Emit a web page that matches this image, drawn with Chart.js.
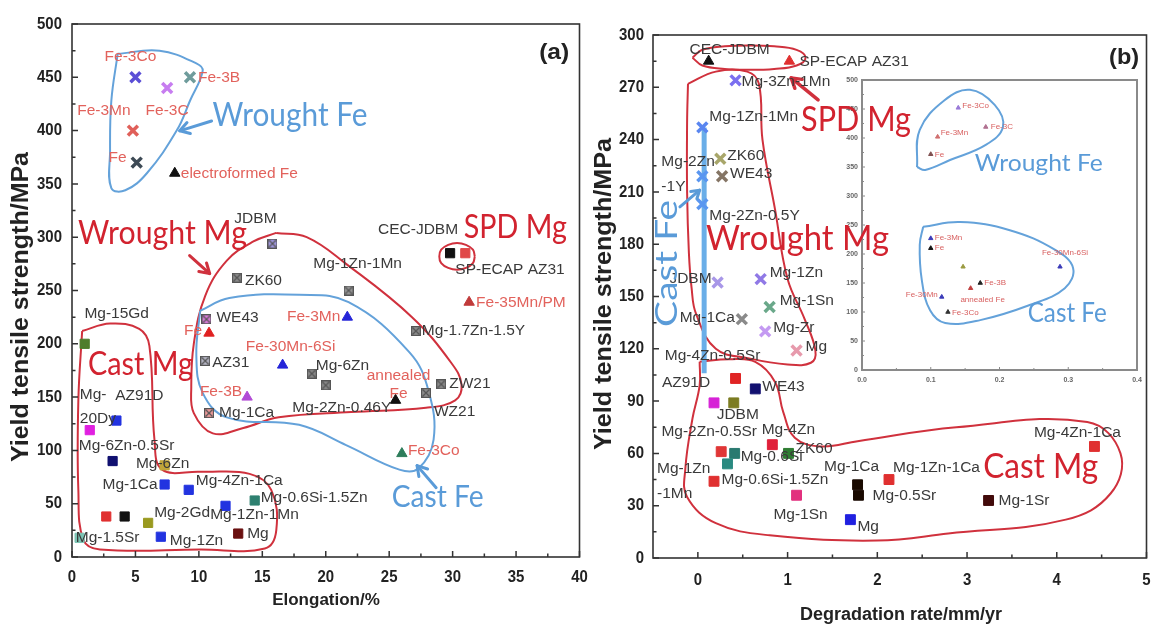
<!DOCTYPE html>
<html>
<head>
<meta charset="utf-8">
<title>Yield tensile strength vs elongation and degradation rate</title>
<script src="https://cdn.jsdelivr.net/npm/chart.js@4.4.1/dist/chart.umd.min.js"></script>
<style>
  html, body { margin:0; padding:0; background:#ffffff; }
  #wrap { position:relative; width:1157px; height:628px; overflow:hidden; background:#fff; }
  #wrap canvas { position:absolute; }
  #ca { left:0; top:0; width:590px; height:628px; }
  #ci { left:830px; top:70px; width:315px; height:325px; z-index:1; }
  #cb { left:590px; top:0; width:567px; height:628px; z-index:2; }
</style>
</head>
<body>
<div id="wrap">
  <canvas id="ca" width="590" height="628"></canvas>
  <canvas id="ci" width="315" height="325"></canvas>
  <canvas id="cb" width="567" height="628"></canvas>
</div>
<script>
// ================= DATA =================
// ---- Panel (a): elongation (%) vs yield tensile strength (MPa)
const aXRange = [0, 40];
const aYRange = [0, 500];
const aXTicks = [0, 5, 10, 15, 20, 25, 30, 35, 40];
const aYTicks = [0, 50, 100, 150, 200, 250, 300, 350, 400, 450, 500];

const aWroughtFeNames = ['Fe-3Co', 'Fe-3C', 'Fe-3B', 'Fe-3Mn', 'Fe'];
const aWroughtFeElong = [5.0, 7.5, 9.3, 4.8, 5.1];
const aWroughtFeYts   = [450, 440, 450, 400, 370];

const aFeTriNames = ['electroformed Fe', 'Fe', 'Fe-3Mn', 'Fe-30Mn-6Si', 'Fe-3B', 'annealed\nFe', 'Fe-3Co', 'Fe-35Mn/PM'];
const aFeTriElong = [8.1, 10.8, 21.7, 16.6, 13.8, 25.5, 26.0, 31.3];
const aFeTriYts   = [360, 210, 225, 180, 150, 147, 97, 239];

const aWroughtMgNames = ['JDBM', 'ZK60', 'Mg-1Zn-1Mn', 'WE43', 'AZ31', 'Mg-1Ca', 'Mg-6Zn', 'Mg-2Zn-0.46Y', 'Mg-1.7Zn-1.5Y', 'ZW21', 'WZ21'];
const aWroughtMgElong = [15.8, 13.0, 21.8, 10.6, 10.5, 10.8, 18.9, 20.0, 27.1, 29.1, 27.9];
const aWroughtMgYts   = [294, 262, 250, 223, 184, 135, 172, 161, 212, 162, 154];

const aSpdNames = ['CEC-JDBM', 'SP-ECAP AZ31'];
const aSpdElong = [29.8, 31.0];
const aSpdYts   = [285, 285];

const aCastMgNames = ['Mg-15Gd', 'AZ91D', 'Mg-\n20Dy', 'Mg-6Zn-0.5Sr', 'Mg-6Zn', 'Mg-1Ca', 'Mg-4Zn-1Ca', 'Mg-0.6Si-1.5Zn', 'Mg-1Zn-1Mn', '', '', 'Mg-2Gd', 'Mg-1.5Sr', 'Mg-1Zn', 'Mg'];
const aCastMgElong = [1.0, 3.5, 1.4, 3.2, 7.3, 7.3, 9.2, 14.4, 12.1, 2.7, 4.15, 6.0, 0.6, 7.0, 13.1];
const aCastMgYts   = [200, 128, 119, 90, 86, 68, 63, 53, 48, 38, 38, 32, 18, 19, 22];

// region outlines of panel (a), in data units [elongation, strength]
const aOutlineWroughtFe = [[3.6,472],[6.9,475],[9.8,463],[10.3,456],[9.3,428],[8.25,400],[5.9,360],[4.2,344],[3.1,346],[3.0,381],[3.1,428],[3.6,472]];
const aOutlineSpd = [[31.75,282],[31.6,288.3],[31.05,292.8],[30.35,294.5],[29.65,292.8],[29.1,288.3],[28.95,282],[29.1,275.7],[29.65,271.2],[30.35,269.5],[31.05,271.2],[31.6,275.7],[31.75,282]];
const aOutlineWroughtMg = [[16.1,304],[18.5,300],[21.6,275],[26.8,225],[29.9,182],[30.7,162],[30.2,147],[27.9,140],[22,136],[16.3,131],[13.5,121],[11.1,116],[9.6,135],[9.4,159],[9.6,200],[10.5,245],[12.2,278],[14.3,296],[16.1,304]];
const aOutlineCastFe = [[10.1,231],[12.4,243],[17.9,246],[21.8,239],[26.6,192],[28.1,156],[28.5,110],[27.3,83],[25.8,82],[21.6,105],[17.9,124],[12.2,131],[10.3,154],[9.8,189],[10.1,231]];
const aOutlineCastMg = [[0.8,212],[3.0,219],[5.3,214],[6.1,198],[6.5,110],[7.1,82],[10.1,80],[14.0,78],[15.7,63],[16.1,25],[15.2,8],[10.1,7],[2.2,7],[0.9,16],[0.5,63],[0.5,147],[0.8,212]];

// ---- Panel (b): degradation rate (mm/yr) vs yield tensile strength (MPa)
const bXRange = [-0.5, 5];
const bYRange = [0, 300];
const bXTicks = [0, 1, 2, 3, 4, 5];
const bYTicks = [0, 30, 60, 90, 120, 150, 180, 210, 240, 270, 300];

const bWroughtMgNames = ['Mg-3Zn-1Mn', 'Mg-1Zn-1Mn', 'Mg-2Zn\n-1Y', 'Mg-2Zn-0.5Y', 'ZK60', 'WE43', 'JDBM', 'Mg-1Zn', 'Mg-1Sn', 'Mg-1Ca', 'Mg-Zr', 'Mg'];
const bWroughtMgRate = [0.42, 0.05, 0.05, 0.05, 0.25, 0.27, 0.22, 0.70, 0.80, 0.49, 0.75, 1.10];
const bWroughtMgYts  = [274, 247, 219, 203, 229, 219, 158, 160, 144, 137, 130, 119];

const bSpdNames = ['CEC-JDBM', 'SP-ECAP AZ31'];
const bSpdRate  = [0.12, 1.02];
const bSpdYts   = [285, 285];

const bCastMgNames = ['Mg-4Zn-0.5Sr', 'AZ91D', 'WE43', 'JDBM', 'Mg-2Zn-0.5Sr', 'Mg-4Zn', 'ZK60', 'Mg-0.6Si', 'Mg-0.6Si-1.5Zn', 'Mg-1Zn\n-1Mn', 'Mg-1Sn', 'Mg', 'Mg-1Ca', 'Mg-0.5Sr', 'Mg-1Zn-1Ca', 'Mg-1Sr', 'Mg-4Zn-1Ca'];
const bCastMgRate = [0.42, 0.18, 0.64, 0.40, 0.26, 0.83, 1.01, 0.41, 0.33, 0.18, 1.10, 1.70, 1.78, 1.79, 2.13, 3.24, 4.42];
const bCastMgYts  = [103, 89, 97, 89, 61, 65, 60, 60, 54, 44, 36, 22, 42, 36, 45, 33, 64];

const bCastFeBar = [[0.07,247],[0.07,106]];
const bOutlineSpd = [[-0.06,287],[0.05,291.5],[0.3,293.5],[0.57,294],[0.85,293.5],[1.1,291.5],[1.2,287],[1.1,282.5],[0.85,280.5],[0.57,280],[0.3,280.5],[0.05,282.5],[-0.06,287]];
const bOutlineWroughtMg = [[-0.11,272],[-0.12,250],[-0.12,210],[-0.1,175],[-0.07,155],[-0.02,140],[0.2,120],[0.57,114.5],[1.0,111],[1.26,112],[1.31,119],[1.19,137],[1.0,160],[0.86,200],[0.72,240],[0.68,272],[0.55,279],[0.2,279],[-0.11,272]];
const bOutlineCastMg = [[0.02,112.6],[0.35,114],[0.64,112.5],[0.86,101],[0.95,84],[1.08,69],[1.37,64],[1.78,67],[2.88,75],[4.34,78],[4.71,60],[4.6,37],[4.1,22],[2.79,14],[2.0,10],[0.8,13],[0.2,20],[-0.12,35],[-0.14,51],[-0.06,80],[0.02,99],[0.02,112.6]];

// ---- Inset of panel (b): Fe alloys
const iXRange = [0, 0.4];
const iYRange = [0, 500];
const iXTicks = [0, 0.1, 0.2, 0.3, 0.4];
const iXTickLabels = ['0.0', '0.1', '0.2', '0.3', '0.4'];
const iYTicks = [0, 50, 100, 150, 200, 250, 300, 350, 400, 450, 500];

const iWroughtFeNames = ['Fe-3Co', 'Fe-3Mn', 'Fe-3C', 'Fe'];
const iWroughtFeRate  = [0.14, 0.11, 0.18, 0.10];
const iWroughtFeYts   = [452, 402, 419, 372];
const iCastFeNames = ['Fe-3Mn', 'Fe', '', 'Fe-30Mn-6Si', 'Fe-3B', 'annealed Fe', 'Fe-30Mn', 'Fe-3Co'];
const iCastFeRate  = [0.10, 0.10, 0.147, 0.288, 0.172, 0.158, 0.116, 0.125];
const iCastFeYts   = [227, 210, 178, 178, 150, 141, 126, 100];
const iOutlineWroughtFe = [[0.08,350],[0.084,414],[0.12,465],[0.157,483],[0.193,457],[0.205,419],[0.18,388],[0.128,362],[0.092,345],[0.08,350]];
const iOutlineCastFe = [[0.089,247],[0.143,255],[0.215,241],[0.281,207],[0.307,176],[0.295,141],[0.244,112],[0.172,86],[0.121,81],[0.099,103],[0.087,155],[0.084,216],[0.089,247]];

// ================= STYLES =================
const RED = '#d2232f', BLUE = '#5a9bd8', OUT_RED = '#d0313d', OUT_BLUE = '#64a2da';
const FE_LABEL = '#e2625c', MG_LABEL = '#3a3a3a';
const F_LABEL = '15.5px "Liberation Sans", Arial, sans-serif';
const F_BIG = 'Lato, "Liberation Sans", sans-serif';
const F_TICK = 'bold 17px "Liberation Sans", Arial, sans-serif';

const aWroughtFeColors = ['#5b4fd6', '#c77df0', '#6f9c9c', '#e0605a', '#3d4a55'];
const aFeTriColors = ['#111111', '#e02020', '#2525d8', '#2525d8', '#b24bd6', '#111111', '#2e7d5b', '#c03a3a'];
const aWroughtMgColors = ['#a59be8', '#8c8c8c', '#9a9a9a', '#e47de4', '#b8b8c8', '#f19a9a', '#8c8c8c', '#8c8c8c', '#8c8c8c', '#8c8c8c', '#8c8c8c'];
const aSpdColors = ['#111111', '#e04848'];
const aCastMgColors = ['#4f7d2c', '#2233e0', '#e020e0', '#101070', '#c0a53a', '#2233e0', '#2233e0', '#2e8070', '#2233e0', '#e03030', '#111111', '#9a9a20', '#7cc4b4', '#2233e0', '#6a1010'];

const bWroughtMgColors = ['#7b6ff0', '#5a86f0', '#5a96f0', '#5a96f0', '#a8a66a', '#857565', '#a897e8', '#9079e6', '#6aa88a', '#8a8a8a', '#c49af2', '#e79aac'];
const bSpdColors = ['#111111', '#e03030'];
const bCastMgColors = ['#e02424', '#d622d6', '#121070', '#7c7c22', '#e03636', '#e0203a', '#2e7d32', '#2a7a70', '#2a8a80', '#e03030', '#e2307e', '#2020e0', '#1a0a00', '#1a0a00', '#e03030', '#420a0a', '#e03030'];
const iWroughtFeColors = ['#9a7ad8', '#d07070', '#b07090', '#805050'];
const iCastFeColors = ['#3a3ab8', '#111111', '#9a9a40', '#3a3ab8', '#222222', '#c04040', '#3a3ab8', '#333333'];

// label offsets [dx px, dy px, align]
const aWroughtFeLab = [[-5,-21,'center'],[0,23,'center'],[8,0,'left'],[-29,-20,'center'],[-10,-5,'right']];
const aFeTriLab = [[6,0,'left'],[-7,-2,'right'],[-7,0,'right'],[8,-18,'center'],[-5,-5,'right'],[3,-25,'center'],[6,-3,'left'],[7,0,'left']];
const aWroughtMgLab = [[-17,-25,'center'],[8,3,'left'],[9,-27,'center'],[10,-2,'left'],[7,2,'left'],[10,0,'left'],[4,-8,'left'],[16,22,'center'],[6,0,'left'],[8,-1,'left'],[8,19,'left']];
const aSpdLab = [[8,-23,'right'],[-10,17,'left']];
const aCastMgLab = [[32,-30,'center'],[23,-25,'center'],[-10,-35,'left'],[14,-15,'center'],[-2,-2,'center'],[-7,0,'right'],[7,-9,'left'],[6,-3,'left'],[29,9,'center'],[0,0,'left'],[0,0,'left'],[6,-10,'left'],[28,0,'center'],[9,4,'left'],[9,0,'left']];

const bWroughtMgLab = [[6,1,'left'],[7,-11,'left'],[-41,-14,'left'],[7,12,'left'],[7,-3,'left'],[8,-2,'left'],[-6,-4,'right'],[9,-6,'left'],[10,-6,'left'],[-7,-1,'right'],[8,-4,'left'],[9,-4,'left']];
const bSpdLab = [[21,-11,'center'],[10,1,'left']];
const bCastMgLab = [[-23,-23,'center'],[-28,-20,'center'],[7,-2,'left'],[4,12,'center'],[-12,-20,'center'],[16,-15,'center'],[7,-5,'left'],[6,3,'left'],[-6,16,'left'],[-57,-13,'left'],[4,19,'center'],[7,7,'left'],[-6,-18,'center'],[14,0,'left'],[4,-12,'left'],[10,0,'left'],[-17,-14,'center']];
const iWroughtFeLab = [[4,-2,'left'],[3,-4,'left'],[5,0,'left'],[4,1,'left']];
const iCastFeLab = [[4,-1,'left'],[4,0,'left'],[0,0,'left'],[5,-14,'center'],[4,0,'left'],[12,12,'center'],[-4,-2,'right'],[4,1,'left']];

// ================= HELPERS =================
function drawText(ctx, s, x, y, o) {
  ctx.save();
  ctx.font = o.font;
  ctx.fillStyle = o.color || '#222';
  ctx.textBaseline = 'middle';
  ctx.textAlign = 'left';
  const w = ctx.measureText(s).width;
  const sx = o.w ? o.w / w : (o.sx || 1);
  ctx.translate(x, y);
  if (o.rot) ctx.rotate(o.rot);
  ctx.scale(sx, 1);
  let off = 0;
  if (o.align === 'center') off = -w / 2; else if (o.align === 'right') off = -w;
  ctx.fillText(s, off, 0);
  ctx.restore();
}
function drawArrow(ctx, x1, y1, x2, y2, color, lw, head) {
  const ang = Math.atan2(y2 - y1, x2 - x1);
  ctx.save();
  ctx.strokeStyle = color; ctx.lineWidth = lw; ctx.lineCap = 'round'; ctx.lineJoin = 'round';
  ctx.beginPath(); ctx.moveTo(x1, y1); ctx.lineTo(x2, y2); ctx.stroke();
  ctx.beginPath();
  ctx.moveTo(x2 - head * Math.cos(ang - 0.55), y2 - head * Math.sin(ang - 0.55));
  ctx.lineTo(x2, y2);
  ctx.lineTo(x2 - head * Math.cos(ang + 0.55), y2 - head * Math.sin(ang + 0.55));
  ctx.stroke();
  ctx.restore();
}
function boxX(fill, stroke) {
  const c = document.createElement('canvas'); c.width = 10; c.height = 10;
  const g = c.getContext('2d');
  g.fillStyle = fill; g.fillRect(0, 0, 10, 10);
  g.strokeStyle = stroke; g.lineWidth = 1.3;
  g.beginPath(); g.moveTo(1.5, 1.5); g.lineTo(8.5, 8.5); g.moveTo(8.5, 1.5); g.lineTo(1.5, 8.5); g.stroke();
  g.strokeRect(0.5, 0.5, 9, 9);
  return c;
}
function pts(xs, ys) { return xs.map((x, i) => ({ x: x, y: ys[i] })); }
function outline(p, color, width) {
  return { data: p.map(q => ({ x: q[0], y: q[1] })), showLine: true, pointRadius: 0, borderColor: color,
           borderWidth: width || 2, tension: 0.4, fill: false, order: 5 };
}
function markers(xs, ys, o) {
  return Object.assign({ data: pts(xs, ys), showLine: false, order: 1 }, o);
}
function mids(t) { const m = []; for (let i = 0; i < t.length - 1; i++) m.push((t[i] + t[i + 1]) / 2); return m; }

function decoPlugin(cfg) {
  return {
    id: 'deco',
    afterDatasetsDraw(chart) {
      const ctx = chart.ctx, xs = chart.scales.x, ys = chart.scales.y;
      (cfg.arrows || []).forEach(a => {
        drawArrow(ctx, xs.getPixelForValue(a.from[0]), ys.getPixelForValue(a.from[1]),
                  xs.getPixelForValue(a.to[0]), ys.getPixelForValue(a.to[1]), a.color, a.lw || 3, a.head || 10);
      });
      chart.data.datasets.forEach((ds, di) => {
        if (!ds.names) return;
        const meta = chart.getDatasetMeta(di);
        ds.names.forEach((name, i) => {
          if (!name) return;
          const el = meta.data[i], st = ds.labelStyle[i];
          name.split('\n').forEach((ln, k) => {
            drawText(ctx, ln, el.x + st[0], el.y + st[1] + k * (ds.labelLineH || 20),
                     { font: ds.labelFont, color: ds.labelColor, align: st[2] });
          });
        });
      });
      (cfg.texts || []).forEach(t => {
        drawText(ctx, t.text, xs.getPixelForValue(t.at[0]), ys.getPixelForValue(t.at[1]), t);
      });
    },
    afterDraw(chart) {
      const ctx = chart.ctx, a = chart.chartArea, xs = chart.scales.x, ys = chart.scales.y;
      ctx.save();
      ctx.strokeStyle = cfg.frameColor; ctx.lineWidth = cfg.frameWidth;
      ctx.strokeRect(a.left, a.top, a.right - a.left, a.bottom - a.top);
      ctx.lineWidth = cfg.tickWidth;
      ctx.beginPath();
      cfg.xTicks.forEach(v => { const p = xs.getPixelForValue(v); ctx.moveTo(p, a.bottom); ctx.lineTo(p, a.bottom - cfg.majorLen); });
      mids(cfg.xTicks).forEach(v => { const p = xs.getPixelForValue(v); ctx.moveTo(p, a.bottom); ctx.lineTo(p, a.bottom - cfg.minorLen); });
      cfg.yTicks.forEach(v => { const p = ys.getPixelForValue(v); ctx.moveTo(a.left, p); ctx.lineTo(a.left + cfg.majorLen, p); });
      mids(cfg.yTicks).forEach(v => { const p = ys.getPixelForValue(v); ctx.moveTo(a.left, p); ctx.lineTo(a.left + cfg.minorLen, p); });
      ctx.stroke();
      ctx.restore();
      cfg.xTicks.forEach((v, i) => drawText(ctx, cfg.xLabels ? cfg.xLabels[i] : String(v), xs.getPixelForValue(v), a.bottom + cfg.xLabelDy,
                                            { font: cfg.tickFont, color: cfg.tickColor, align: 'center', sx: cfg.tickSx }));
      cfg.yTicks.forEach((v, i) => drawText(ctx, cfg.yLabels ? cfg.yLabels[i] : String(v), a.left - cfg.yLabelDx, ys.getPixelForValue(v),
                                            { font: cfg.tickFont, color: cfg.tickColor, align: 'right', sx: cfg.tickSx }));
      (cfg.titles || []).forEach(t => drawText(ctx, t.text, t.x, t.y, t));
    }
  };
}
function baseOptions(pad, xr, yr) {
  return {
    responsive: false, animation: false, events: [], devicePixelRatio: 1,
    layout: { padding: pad },
    plugins: { legend: { display: false }, tooltip: { enabled: false } },
    scales: { x: { type: 'linear', min: xr[0], max: xr[1], display: false },
              y: { type: 'linear', min: yr[0], max: yr[1], display: false } }
  };
}

// ================= PANEL (a) =================
new Chart(document.getElementById('ca'), {
  type: 'scatter',
  data: { datasets: [
    outline(aOutlineWroughtFe, OUT_BLUE, 2),
    outline(aOutlineCastFe, OUT_BLUE, 2),
    outline(aOutlineWroughtMg, OUT_RED, 2),
    outline(aOutlineCastMg, OUT_RED, 2),
    outline(aOutlineSpd, OUT_RED, 2),
    markers(aWroughtFeElong, aWroughtFeYts, { pointStyle: 'crossRot', pointRadius: 7, pointBorderWidth: 3.5,
      pointBorderColor: aWroughtFeColors, names: aWroughtFeNames, labelStyle: aWroughtFeLab, labelFont: F_LABEL, labelColor: FE_LABEL }),
    markers(aFeTriElong, aFeTriYts, { pointStyle: 'triangle', pointRadius: 6, pointBorderWidth: 1,
      pointBackgroundColor: aFeTriColors, pointBorderColor: aFeTriColors, names: aFeTriNames, labelStyle: aFeTriLab,
      labelFont: F_LABEL, labelColor: FE_LABEL, labelLineH: 18 }),
    markers(aWroughtMgElong, aWroughtMgYts, { pointStyle: aWroughtMgColors.map(c => boxX(c, '#555')), pointRadius: 5,
      names: aWroughtMgNames, labelStyle: aWroughtMgLab, labelFont: F_LABEL, labelColor: MG_LABEL }),
    markers(aSpdElong, aSpdYts, { pointStyle: 'rect', pointRadius: 6.5, pointBorderWidth: 1,
      pointBackgroundColor: aSpdColors, pointBorderColor: aSpdColors, names: aSpdNames, labelStyle: aSpdLab,
      labelFont: F_LABEL, labelColor: MG_LABEL }),
    markers(aCastMgElong, aCastMgYts, { pointStyle: 'rect', pointRadius: 6.5, pointBorderWidth: 1,
      pointBackgroundColor: aCastMgColors, pointBorderColor: aCastMgColors, names: aCastMgNames, labelStyle: aCastMgLab,
      labelFont: F_LABEL, labelColor: MG_LABEL, labelLineH: 24 })
  ] },
  options: baseOptions({ left: 72, right: 9, top: 24, bottom: 71 }, aXRange, aYRange),
  plugins: [decoPlugin({
    xTicks: aXTicks, yTicks: aYTicks, frameColor: '#333', frameWidth: 1.6, tickWidth: 1.5, majorLen: 6, minorLen: 3.5,
    tickFont: F_TICK, tickColor: '#222', tickSx: 0.88, xLabelDy: 20, yLabelDx: 10,
    titles: [
      { text: 'Elongation/%', x: 326, y: 600, font: 'bold 17px "Liberation Sans", Arial, sans-serif', color: '#222', align: 'center' },
      { text: 'Yield tensile strength/MPa', x: 21, y: 307, rot: -Math.PI / 2, w: 310, font: 'bold 24px "Liberation Sans", Arial, sans-serif', color: '#222', align: 'center' }
    ],
    texts: [
      { text: 'Wrought Fe', at: [11.08, 414], font: '32px ' + F_BIG, color: BLUE, w: 155 },
      { text: 'Wrought Mg', at: [0.47, 303], font: '32px ' + F_BIG, color: RED, w: 169 },
      { text: 'Cast Mg', at: [1.26, 180], font: '32px ' + F_BIG, color: RED, w: 105 },
      { text: 'SPD Mg', at: [30.88, 309], font: '32px ' + F_BIG, color: RED, w: 103 },
      { text: 'Cast Fe', at: [25.2, 56], font: '30px ' + F_BIG, color: BLUE, w: 92 },
      { text: '(a)', at: [38.0, 473], font: 'bold 22px "Liberation Sans", Arial, sans-serif', color: '#222', align: 'center', w: 30 }
    ],
    arrows: [
      { from: [11.0, 409], to: [8.49, 399.8], color: BLUE, lw: 3, head: 11 },
      { from: [9.27, 282.8], to: [10.85, 265.9], color: OUT_RED, lw: 3, head: 11 },
      { from: [28.7, 65], to: [27.2, 85.7], color: BLUE, lw: 3, head: 11 }
    ]
  })]
});

// ================= INSET of (b) =================
new Chart(document.getElementById('ci'), {
  type: 'scatter',
  data: { datasets: [
    outline(iOutlineWroughtFe, OUT_BLUE, 2),
    outline(iOutlineCastFe, OUT_BLUE, 2),
    markers(iWroughtFeRate, iWroughtFeYts, { pointStyle: 'triangle', pointRadius: 2.5, pointBorderWidth: 1,
      pointBackgroundColor: iWroughtFeColors, pointBorderColor: iWroughtFeColors, names: iWroughtFeNames, labelStyle: iWroughtFeLab,
      labelFont: '8px "Liberation Sans", Arial, sans-serif', labelColor: '#d86060' }),
    markers(iCastFeRate, iCastFeYts, { pointStyle: 'triangle', pointRadius: 2.5, pointBorderWidth: 1,
      pointBackgroundColor: iCastFeColors, pointBorderColor: iCastFeColors, names: iCastFeNames, labelStyle: iCastFeLab,
      labelFont: '8px "Liberation Sans", Arial, sans-serif', labelColor: '#d86060' })
  ] },
  options: baseOptions({ left: 32, right: 8, top: 10, bottom: 25 }, iXRange, iYRange),
  plugins: [decoPlugin({
    xTicks: iXTicks, yTicks: iYTicks, xLabels: iXTickLabels, frameColor: '#8a8a8a', frameWidth: 2, tickWidth: 1, majorLen: 3, minorLen: 2,
    tickFont: 'bold 7px "Liberation Sans", Arial, sans-serif', tickColor: '#666', tickSx: 1, xLabelDy: 10, yLabelDx: 4,
    texts: [
      { text: 'Wrought Fe', at: [0.164, 357], font: '24px ' + F_BIG, color: BLUE, w: 128 },
      { text: 'Cast Fe', at: [0.241, 98], font: '26px ' + F_BIG, color: BLUE, w: 79 }
    ]
  })]
});

// ================= PANEL (b) =================
new Chart(document.getElementById('cb'), {
  type: 'scatter',
  data: { datasets: [
    outline(bOutlineSpd, OUT_RED, 2),
    outline(bOutlineWroughtMg, OUT_RED, 2),
    outline(bOutlineCastMg, OUT_RED, 2),
    Object.assign(outline(bCastFeBar, '#6aaee8', 5), { tension: 0, order: 3 }),
    markers(bWroughtMgRate, bWroughtMgYts, { pointStyle: 'crossRot', pointRadius: 7, pointBorderWidth: 3.5,
      pointBorderColor: bWroughtMgColors, names: bWroughtMgNames, labelStyle: bWroughtMgLab, labelFont: F_LABEL,
      labelColor: MG_LABEL, labelLineH: 25 }),
    markers(bSpdRate, bSpdYts, { pointStyle: 'triangle', pointRadius: 6, pointBorderWidth: 1,
      pointBackgroundColor: bSpdColors, pointBorderColor: bSpdColors, names: bSpdNames, labelStyle: bSpdLab,
      labelFont: F_LABEL, labelColor: MG_LABEL }),
    markers(bCastMgRate, bCastMgYts, { pointStyle: 'rect', pointRadius: 7, pointBorderWidth: 1,
      pointBackgroundColor: bCastMgColors, pointBorderColor: bCastMgColors, names: bCastMgNames, labelStyle: bCastMgLab,
      labelFont: F_LABEL, labelColor: MG_LABEL, labelLineH: 25 })
  ] },
  options: baseOptions({ left: 63, right: 4, top: 35, bottom: 70 }, bXRange, bYRange),
  plugins: [decoPlugin({
    xTicks: bXTicks, yTicks: bYTicks, frameColor: '#333', frameWidth: 1.6, tickWidth: 1.5, majorLen: 6, minorLen: 3.5,
    tickFont: F_TICK, tickColor: '#222', tickSx: 0.88, xLabelDy: 22, yLabelDx: 9,
    titles: [
      { text: 'Degradation rate/mm/yr', x: 311, y: 615, font: 'bold 18px "Liberation Sans", Arial, sans-serif', color: '#222', align: 'center' },
      { text: 'Yield tensile strength/MPa', x: 14, y: 294, rot: -Math.PI / 2, w: 312, font: 'bold 24px "Liberation Sans", Arial, sans-serif', color: '#222', align: 'center' }
    ],
    texts: [
      { text: 'SPD Mg', at: [1.15, 251], font: '34px ' + F_BIG, color: RED, w: 110 },
      { text: 'Wrought Mg', at: [0.09, 183], font: '34px ' + F_BIG, color: RED, w: 183 },
      { text: 'Cast Mg', at: [3.18, 52], font: '34px ' + F_BIG, color: RED, w: 115 },
      { text: 'Cast Fe', at: [-0.335, 169], font: '30px ' + F_BIG, color: BLUE, w: 127, rot: -Math.PI / 2, align: 'center' },
      { text: '(b)', at: [4.75, 287], font: 'bold 22px "Liberation Sans", Arial, sans-serif', color: '#222', align: 'center', w: 30 }
    ],
    arrows: [
      { from: [1.34, 262.8], to: [1.04, 275.4], color: OUT_RED, lw: 3.5, head: 11 },
      { from: [-0.2, 201.4], to: [0.02, 211], color: BLUE, lw: 3, head: 9 }
    ]
  })]
});
</script>
</body>
</html>
